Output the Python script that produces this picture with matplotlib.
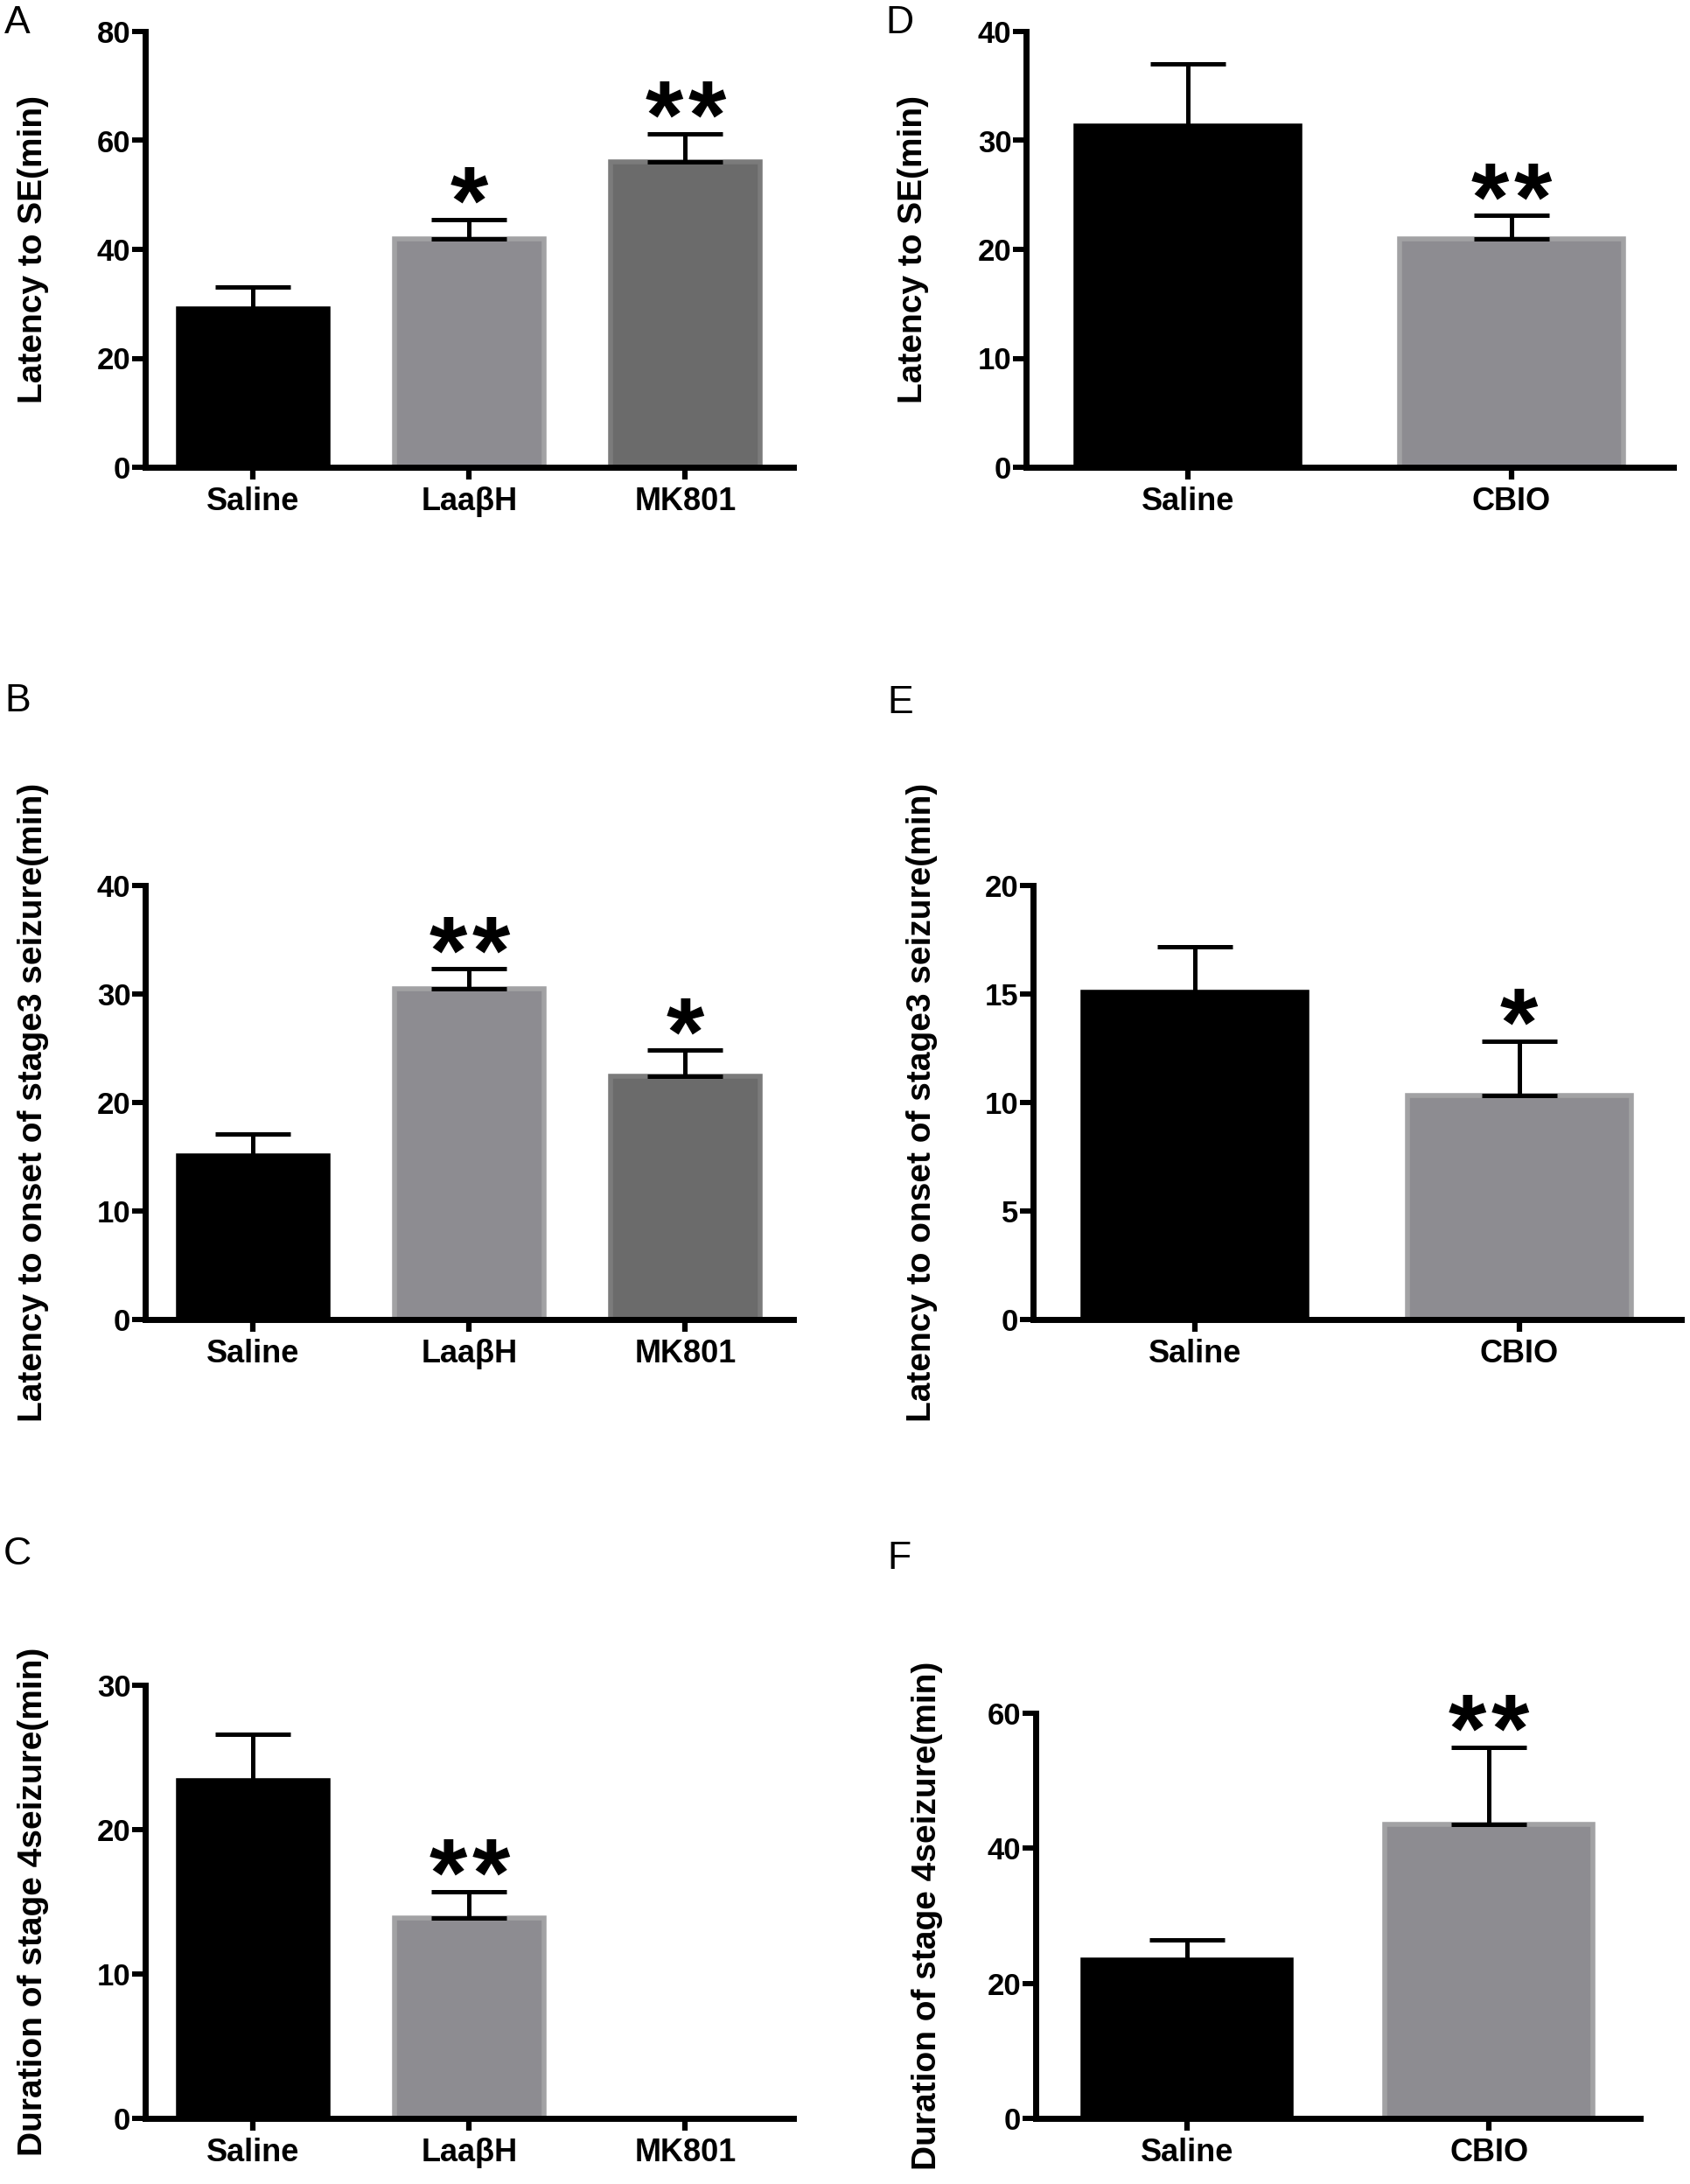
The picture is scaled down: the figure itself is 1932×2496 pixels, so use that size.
import matplotlib
matplotlib.use("Agg")
import matplotlib.pyplot as plt

# Datos
grupos_izq = ["Saline", "LaaβH", "MK801"]
grupos_der = ["Saline", "CBIO"]

lat_se_izq = [29.1, 41.9, 56.1]
lat_se_izq_err = [4.0, 3.6, 5.1]
lat_se_der = [31.3, 21.0]
lat_se_der_err = [5.7, 2.1]

lat_s3_izq = [15.1, 30.5, 22.4]
lat_s3_izq_err = [2.0, 1.8, 2.4]
lat_s3_der = [15.07, 10.31]
lat_s3_der_err = [2.1, 2.5]

dur_s4_izq = [23.4, 13.9, 0.0]
dur_s4_izq_err = [3.2, 1.8, 0.0]
dur_s4_der = [23.4, 43.6]
dur_s4_der_err = [3.0, 11.4]

sig_se_izq = ["", "*", "**"]
sig_se_der = ["", "**"]
sig_s3_izq = ["", "**", "*"]
sig_s3_der = ["", "*"]
sig_s4_izq = ["", "**", ""]
sig_s4_der = ["", "**"]

colores_izq = ["#000000", "#8d8c91", "#6b6b6b"]
bordes_izq = ["#000000", "#a2a2a4", "#7b7b7b"]
colores_der = ["#000000", "#8d8c91"]
bordes_der = ["#000000", "#a2a2a4"]

W, H = 1933, 2496
fig = plt.figure(figsize=(W / 100, H / 100), dpi=100)
FUENTE = "Liberation Sans"
PX = 72 / 100  # puntos por pixel


def panel(caja, letra, letra_xy, grupos, valores, errores, sig, colores, bordes,
          ymax, paso, etiqueta, x_etiqueta):
    izq, der, arriba, abajo = caja
    ax = fig.add_axes([izq / W, 1 - abajo / H, (der - izq) / W, (abajo - arriba) / H])
    x = list(range(len(grupos)))
    ax.bar(x, valores, width=0.69, color=colores, edgecolor=bordes, linewidth=4, zorder=2)
    for i in x:
        if valores[i] > 0:
            ax.errorbar(i, valores[i], yerr=[[0], [errores[i]]], fmt="none",
                        ecolor="black", elinewidth=3.6, capsize=31, capthick=3.6, zorder=3)
        n = len(sig[i])
        for k in range(n):
            dx = (k - (n - 1) / 2) * 49 * PX
            ax.annotate("*", xy=(i, valores[i] + errores[i]), xytext=(dx, -12),
                        textcoords="offset points", ha="center", va="baseline",
                        fontsize=80, fontweight="bold", family=FUENTE)
    ax.set_xlim(-0.5, len(grupos) - 0.5)
    ax.set_ylim(0, ymax)
    ax.set_yticks(range(0, ymax + 1, paso))
    ax.set_xticks(x)
    ax.set_xticklabels(grupos, fontsize=26, fontweight="bold", family=FUENTE)
    for t in ax.get_yticklabels():
        t.set_fontsize(25)
        t.set_fontweight("bold")
        t.set_family(FUENTE)
    for lado in ["top", "right"]:
        ax.spines[lado].set_visible(False)
    for lado in ["left", "bottom"]:
        ax.spines[lado].set_linewidth(5)
    ax.tick_params(axis="y", length=11, width=4.3, pad=1)
    ax.tick_params(axis="x", length=10, width=4.5, pad=6)
    ax.set_ylabel(etiqueta, fontsize=28, fontweight="bold", family=FUENTE)
    ax.yaxis.set_label_coords(x_etiqueta / W, 1 - (arriba + abajo) / 2 / H,
                              transform=fig.transFigure)
    fig.text(letra_xy[0] / W, 1 - letra_xy[1] / H, letra, fontsize=32,
             family=FUENTE, ha="left", va="top")
    return ax


panel((166, 907, 36, 534), "A", (5, 6), grupos_izq, lat_se_izq, lat_se_izq_err,
      sig_se_izq, colores_izq, bordes_izq, 80, 20, "Latency to SE(min)", 56)
panel((1173, 1913, 36, 534), "D", (1012, 6), grupos_der, lat_se_der, lat_se_der_err,
      sig_se_der, colores_der, bordes_der, 40, 10, "Latency to SE(min)", 1062)
panel((166, 907, 1012, 1508), "B", (5, 781), grupos_izq, lat_s3_izq, lat_s3_izq_err,
      sig_s3_izq, colores_izq, bordes_izq, 40, 10,
      "Latency to onset of stage3 seizure(min)", 56)
panel((1181, 1922, 1012, 1508), "E", (1014, 783), grupos_der, lat_s3_der, lat_s3_der_err,
      sig_s3_der, colores_der, bordes_der, 20, 5,
      "Latency to onset of stage3 seizure(min)", 1072)
panel((166, 907, 1926, 2421), "C", (4, 1756), grupos_izq, dur_s4_izq, dur_s4_izq_err,
      sig_s4_izq, colores_izq, bordes_izq, 30, 10,
      "Duration of stage 4seizure(min)", 56)
panel((1184, 1875, 1958, 2421), "F", (1014, 1761), grupos_der, dur_s4_der, dur_s4_der_err,
      sig_s4_der, colores_der, bordes_der, 60, 20,
      "Duration of stage 4seizure(min)", 1078)

fig.savefig("out.png", dpi=100, facecolor="white")
